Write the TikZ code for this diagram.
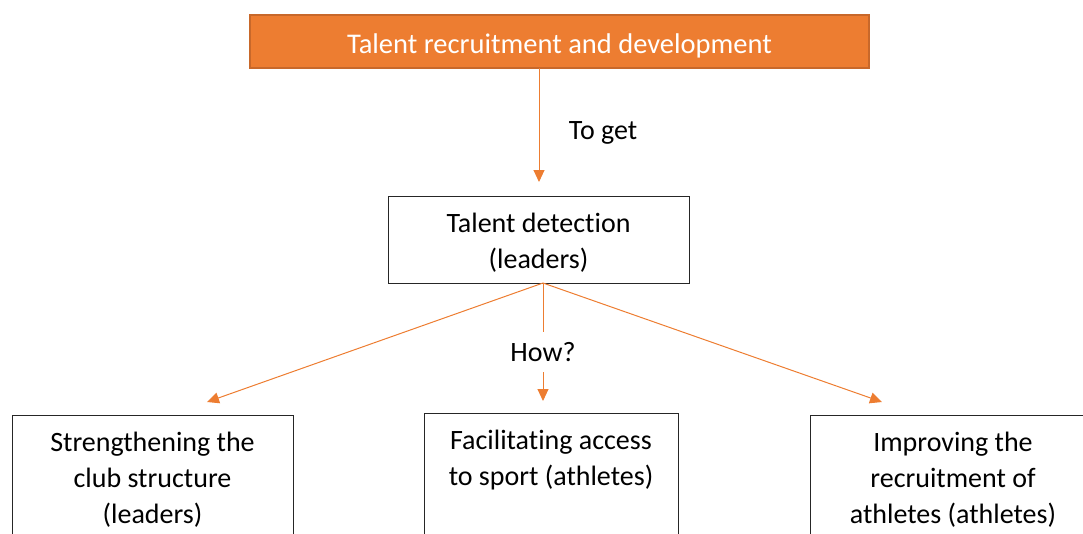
\documentclass[tikz,border=0pt]{standalone}
\usepackage{fontspec}
\setmainfont{Carlito}[Ligatures=NoCommon]
\usetikzlibrary{arrows.meta}
\definecolor{accent}{HTML}{ED7D31}
\definecolor{accentdark}{HTML}{C8682A}
% top-aligned text block: width, height, first baseline, lines
\newcommand{\boxtext}[4]{\parbox[t][#2][t]{#1}{\centering\rule{0pt}{#3}#4}}
\begin{document}
\begin{tikzpicture}[x=1pt,y=-1pt,
  font=\fontsize{28}{36}\selectfont,
  headbox/.style={draw=accentdark, fill=accent, line width=1.2pt, text=white,
    inner sep=0pt, font=\fontsize{28.5}{36}\selectfont},
  plainbox/.style={draw=black!85, line width=1pt, inner sep=0pt},
  itembox/.style={draw=black!85, line width=1pt, inner sep=0pt, anchor=north},
  link/.style={draw=accent, line width=1pt,
    -{Triangle[length=12pt,width=11pt]}},
  tag/.style={inner sep=2pt}]
\useasboundingbox (0,0) rectangle (1083,533);
\clip (0,0) rectangle (1083,533);

% top goal
\node[headbox] (goal) at (559.5,41.5)
  {\boxtext{619pt}{53pt}{38pt}{Talent recruitment and development}};

% central box
\node[plainbox] (detect) at (538.5,239.5)
  {\boxtext{301pt}{87pt}{36pt}{Talent detection\\(leaders)}};

% three ways, cut off at the lower edge
\node[itembox] (club) at (152.5,415)
  {\boxtext{281pt}{140pt}{36pt}{Strengthening the\\club structure\\(leaders)}};
\node[itembox] (access) at (551,413)
  {\boxtext{254pt}{140pt}{36pt}{Facilitating access\\to sport (athletes)}};
\node[itembox] (recruit) at (953,415)
  {\boxtext{286pt}{140pt}{36pt}{Improving the\\recruitment of\\athletes (athletes)}};

% arrow ends
\coordinate (goalout) at (539,68);
\coordinate (goalin) at (539,182);
\coordinate (fork) at (543,283);
\coordinate (clubin) at (207,402);
\coordinate (accessin) at (543,401);
\coordinate (recruitin) at (882,402);

\draw[link] (goalout) -- (goalin);
\node[tag] (toget) at (603,133) {To get};

\draw[link] (fork) -- (clubin);
\draw[link] (fork) -- (recruitin);
\draw[link] (fork) -- node[fill=white, inner xsep=3pt, inner ysep=10pt, pos=0.585] (how) {How?} (accessin);
\end{tikzpicture}
\end{document}
